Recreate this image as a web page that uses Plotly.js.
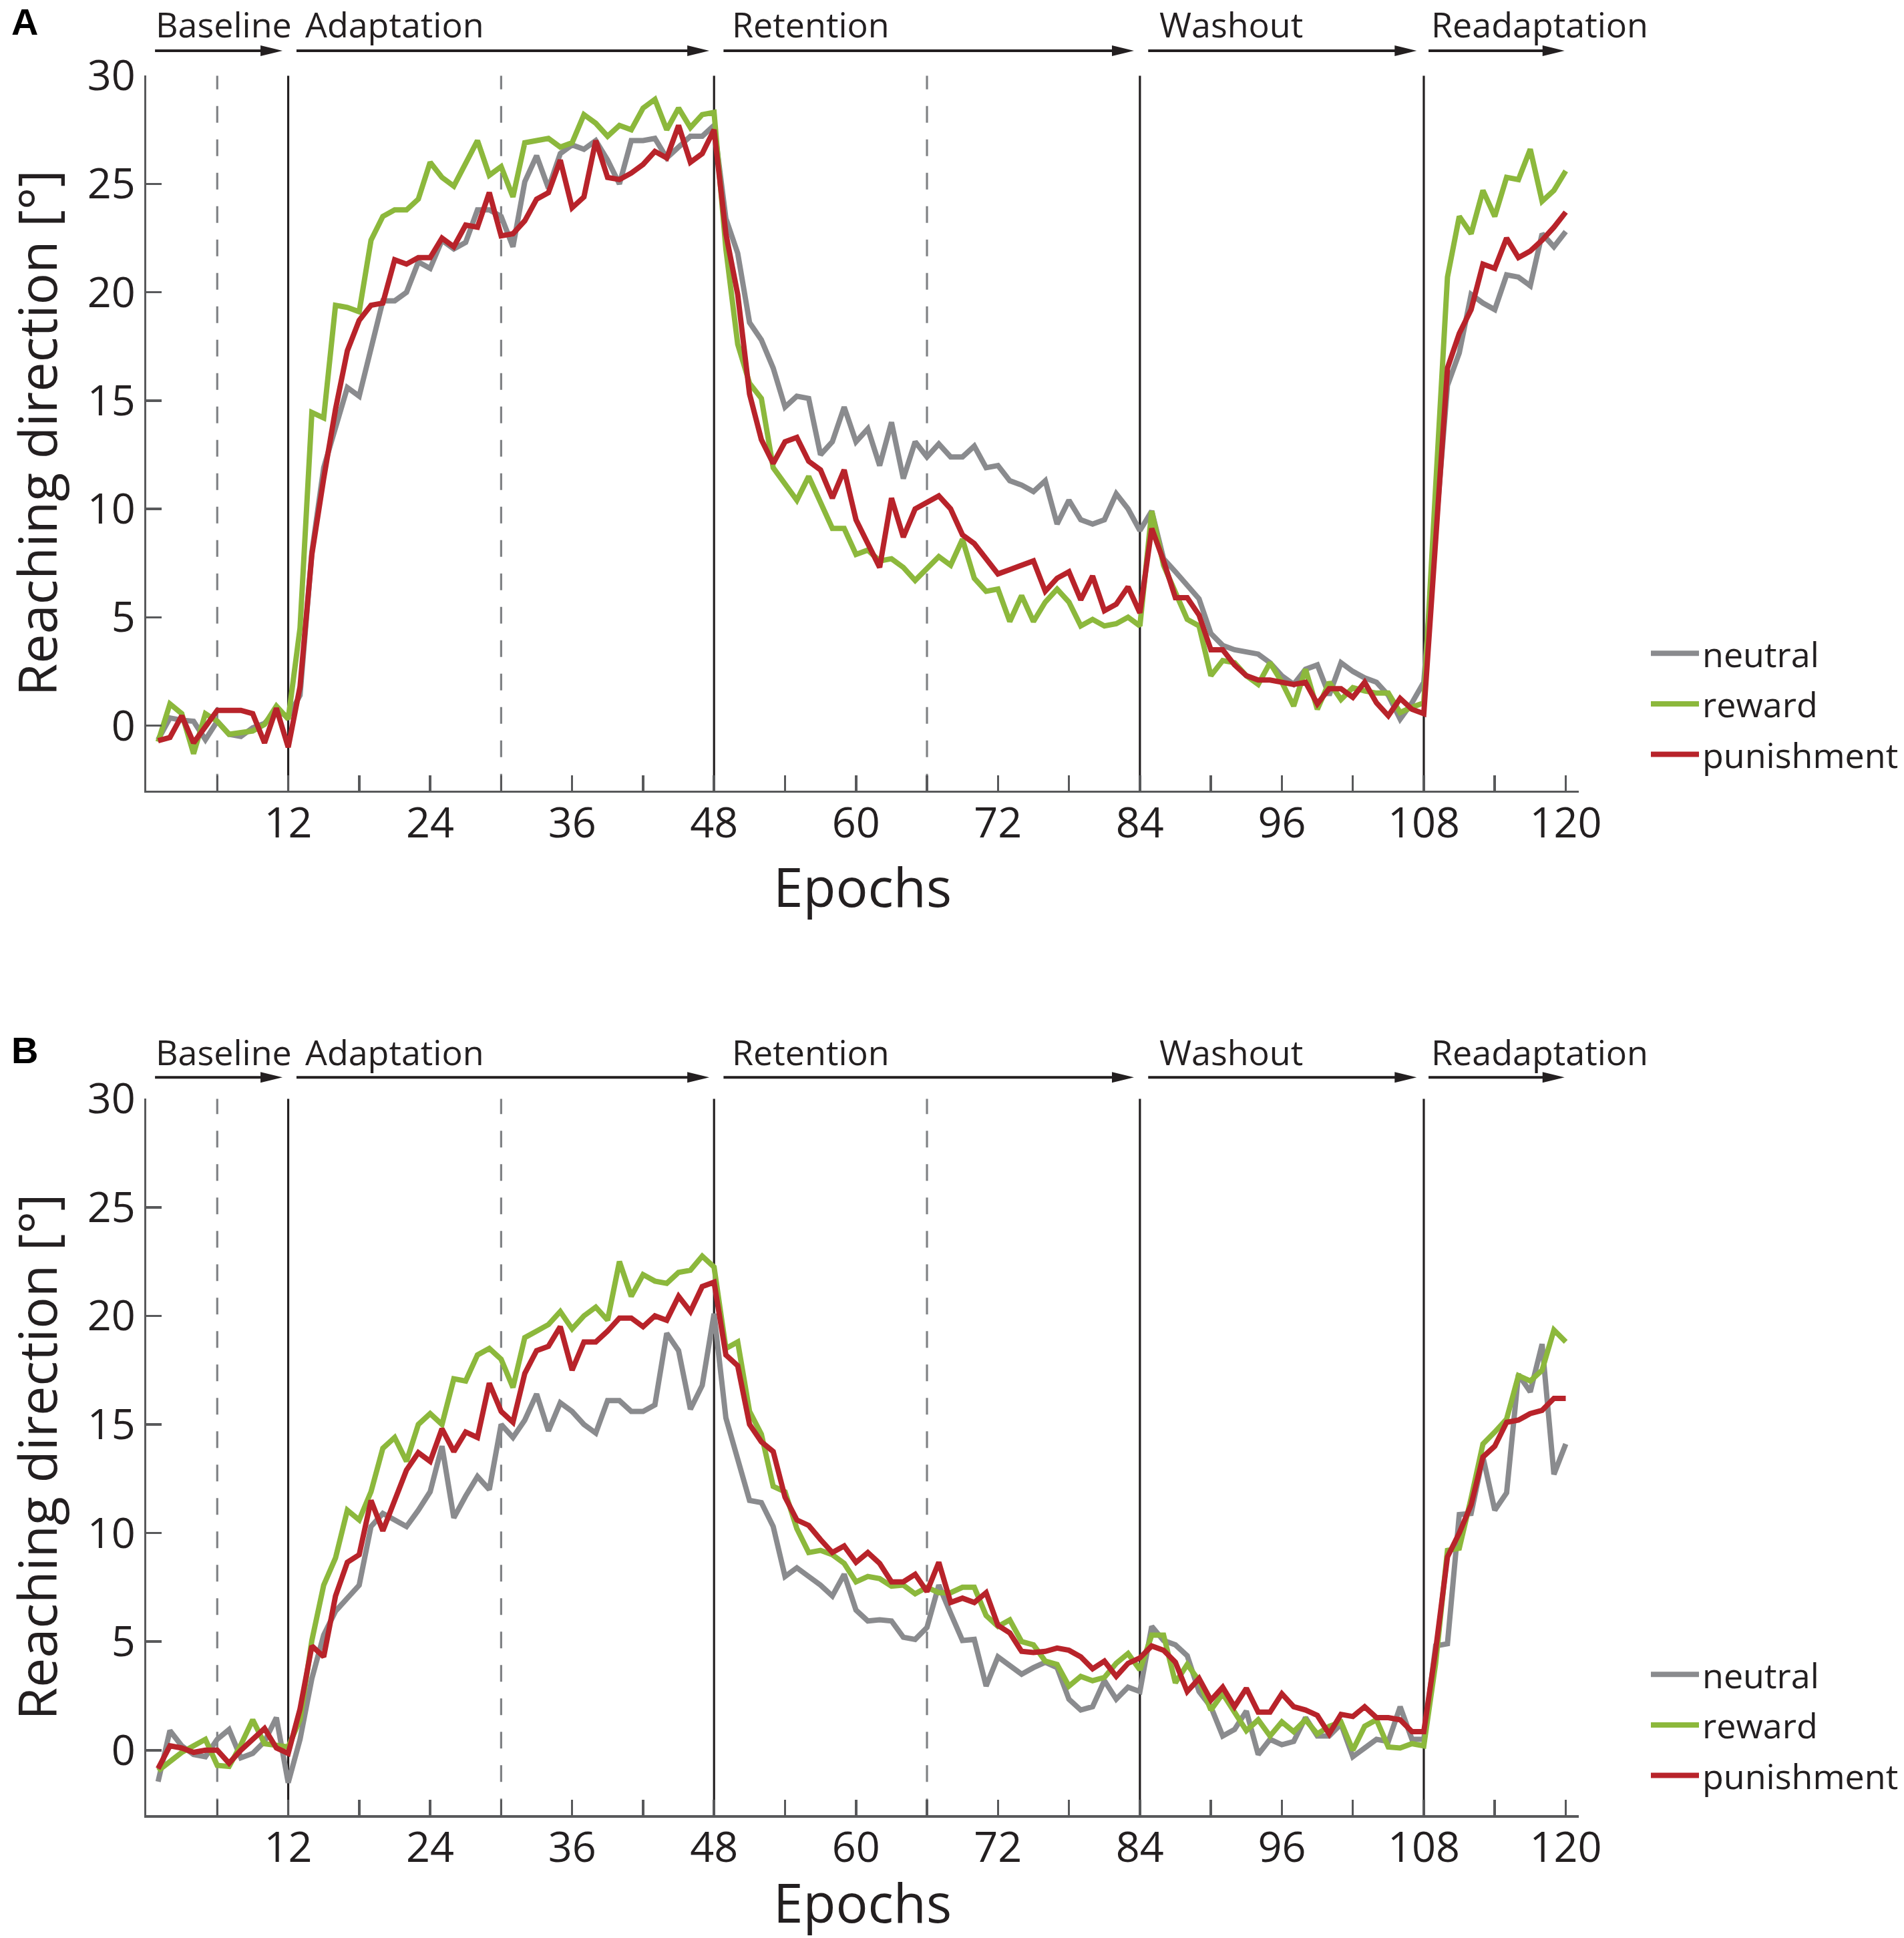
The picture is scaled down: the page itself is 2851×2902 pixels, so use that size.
<!DOCTYPE html>
<html><head><meta charset="utf-8">
<script src="https://cdn.plot.ly/plotly-3.0.1.min.js"></script>
<style>html,body{margin:0;padding:0;background:#fff}</style>
</head><body><div id="chart" style="width:2851px;height:2902px"></div>
<script>
// ---------- data ----------
const epochs = Array.from({length:120},(_, i)=>i+1);
const seriesNames = ['neutral','reward','punishment'];
const seriesColors = ['#8a8b8e','#8cb83c','#b8232a'];

const neutralA = [-0.65,0.35,0.25,0.2,-0.65,0.2,-0.4,-0.5,-0.1,0.1,0.7,0.4,
1.4,8.0,11.9,13.8,15.6,15.2,17.5,19.6,19.6,20.0,21.4,21.1,22.4,22.0,22.3,23.8,23.8,23.5,22.1,25.1,26.3,24.8,26.4,26.8,26.6,27.0,26.1,25.0,27.0,27.0,27.1,26.2,26.7,27.2,27.2,27.7,
23.4,21.8,18.6,17.8,16.5,14.7,15.2,15.1,12.5,13.1,14.7,13.1,13.7,12.0,14.0,11.4,13.1,12.4,13.0,12.4,12.4,12.9,11.9,12.0,11.3,11.1,10.8,11.3,9.3,10.4,9.5,9.3,9.5,10.7,10.0,9.0,
9.9,7.7,7.1,6.5,5.85,4.25,3.7,3.5,3.4,3.3,2.9,2.3,1.9,2.6,2.8,1.4,2.9,2.5,2.2,2.0,1.4,0.3,1.05,2.0,
9.0,15.7,17.2,19.9,19.5,19.2,20.8,20.7,20.3,22.7,22.1,22.8];
const rewardA = [-0.75,1.0,0.55,-1.3,0.55,0.2,-0.4,-0.35,-0.25,0.05,0.9,0.3,
4.5,14.45,14.2,19.4,19.3,19.1,22.4,23.5,23.8,23.8,24.3,26.0,25.3,24.9,25.9,27.0,25.4,25.8,24.4,26.9,27.0,27.1,26.7,26.9,28.2,27.8,27.2,27.7,27.5,28.5,28.9,27.5,28.5,27.6,28.2,28.3,
22.0,17.6,15.8,15.1,11.9,11.1,10.4,11.5,10.3,9.1,9.1,7.9,8.1,7.6,7.7,7.3,6.7,7.25,7.8,7.4,8.6,6.8,6.2,6.3,4.8,6.0,4.8,5.7,6.3,5.7,4.6,4.9,4.6,4.7,5.0,4.6,
9.9,7.4,6.2,4.9,4.6,2.3,3.0,2.9,2.3,1.9,2.9,2.0,0.9,2.6,0.75,2.0,1.2,1.75,1.6,1.5,1.5,0.6,0.85,1.05,
11.0,20.7,23.5,22.7,24.7,23.5,25.3,25.2,26.6,24.2,24.7,25.6];
const punishmentA = [-0.7,-0.55,0.45,-0.8,-0.05,0.7,0.7,0.7,0.55,-0.8,0.8,-1.0,
1.8,7.9,11.4,14.6,17.3,18.7,19.4,19.5,21.5,21.3,21.6,21.6,22.5,22.1,23.1,23.0,24.6,22.6,22.7,23.3,24.3,24.6,26.1,23.9,24.4,27.0,25.3,25.2,25.5,25.9,26.5,26.2,27.7,26.0,26.4,27.5,
22.7,19.9,15.3,13.2,12.1,13.1,13.3,12.2,11.8,10.5,11.8,9.5,8.4,7.3,10.5,8.7,10.0,10.3,10.6,10.0,8.8,8.4,7.7,7.0,7.2,7.4,7.6,6.2,6.8,7.1,5.8,6.9,5.3,5.6,6.4,5.2,
9.1,7.6,5.9,5.9,5.1,3.5,3.5,2.8,2.3,2.1,2.1,2.0,1.9,2.0,1.0,1.7,1.7,1.3,2.0,1.05,0.45,1.25,0.75,0.55,
8.5,16.5,18.1,19.2,21.3,21.1,22.5,21.6,21.9,22.4,23.0,23.7];

const neutralB = [-1.45,0.9,0.2,-0.2,-0.3,0.5,0.95,-0.35,-0.15,0.4,1.5,-1.5,
0.5,3.3,5.3,6.4,7.0,7.6,10.3,10.9,10.6,10.3,11.05,11.9,14.0,10.7,11.7,12.6,12.0,15.0,14.4,15.2,16.4,14.7,16.0,15.6,15.0,14.6,16.1,16.1,15.6,15.6,15.9,19.2,18.4,15.7,16.8,20.1,
15.3,13.4,11.5,11.4,10.3,8.0,8.4,8.0,7.6,7.1,8.1,6.45,5.95,6.0,5.95,5.2,5.1,5.65,7.6,6.3,5.05,5.1,2.95,4.3,3.9,3.5,3.8,4.05,3.8,2.35,1.85,2.0,3.2,2.35,2.9,2.7,
5.7,5.05,4.85,4.35,2.7,2.0,0.65,0.95,1.8,-0.2,0.5,0.25,0.4,1.5,0.65,0.65,1.2,-0.3,0.1,0.5,0.4,2.0,0.5,0.5,
4.8,4.9,10.85,10.9,13.5,11.05,11.85,17.3,16.5,18.7,12.7,14.1];
const rewardB = [-0.95,-0.55,-0.1,0.2,0.5,-0.7,-0.75,0.25,1.4,0.3,0.25,0.15,
1.4,5.05,7.6,8.85,11.05,10.6,11.9,13.9,14.4,13.3,15.0,15.5,15.0,17.1,17.0,18.2,18.5,18.0,16.7,19.0,19.3,19.6,20.2,19.4,20.0,20.4,19.8,22.5,20.9,21.9,21.6,21.5,22.0,22.1,22.75,22.25,
18.5,18.8,15.6,14.55,12.15,11.9,10.2,9.1,9.2,9.0,8.6,7.75,8.0,7.9,7.55,7.6,7.2,7.5,7.25,7.25,7.5,7.5,6.2,5.7,6.0,5.0,4.85,4.1,3.95,2.95,3.4,3.2,3.35,4.0,4.45,3.7,
5.3,5.3,3.1,3.95,3.2,1.85,2.6,1.75,0.9,1.4,0.65,1.3,0.85,1.4,0.75,1.1,1.3,0.0,1.1,1.4,0.15,0.1,0.3,0.2,
4.0,9.2,9.3,11.6,14.1,14.65,15.25,17.25,17.0,17.5,19.35,18.8];
const punishmentB = [-0.85,0.2,0.1,-0.1,0.0,0.0,-0.6,0.0,0.5,1.0,0.1,-0.15,
1.9,4.8,4.3,7.1,8.65,9.0,11.5,10.1,11.5,12.9,13.7,13.3,14.8,13.75,14.65,14.4,16.9,15.6,15.1,17.35,18.4,18.6,19.5,17.5,18.8,18.8,19.3,19.9,19.9,19.5,20.0,19.8,20.9,20.2,21.35,21.55,
18.2,17.7,15.0,14.2,13.75,11.65,10.6,10.35,9.7,9.1,9.4,8.65,9.1,8.6,7.75,7.75,8.1,7.3,8.65,6.8,7.0,6.8,7.25,5.75,5.4,4.55,4.5,4.55,4.7,4.6,4.3,3.75,4.1,3.4,4.0,4.25,
4.8,4.6,4.05,2.7,3.3,2.3,2.9,2.0,2.85,1.75,1.75,2.6,2.0,1.85,1.6,0.75,1.65,1.55,2.0,1.5,1.5,1.4,0.85,0.85,
4.6,8.9,10.0,11.3,13.5,14.0,15.1,15.2,15.5,15.65,16.2,16.2];

const xTickVals = [6,12,18,24,30,36,42,48,54,60,66,72,78,84,90,96,102,108,114,120];
const xTickText = ['','12','','24','','36','','48','','60','','72','','84','','96','','108','','120'];
const yTickVals = [0,5,10,15,20,25,30];
const yTickText = ['0','5','10','15','20','25','30'];

const phaseNames = ['Baseline','Adaptation','Retention','Washout','Readaptation'];
const phaseTextX = [0.7, 13.35, 49.4, 85.55, 108.5];
const phaseArrowStart = [0.74, 12.7, 48.8, 84.7, 108.4];
const phaseArrowEnd = [11.52, 47.6, 83.5, 107.4, 119.9];
const blockLines = [12,48,84,108];
const midLines = [6,30,66];
const panelLetters = ['A','B'];

// ---------- styling ----------
const FONT = 'Open Sans, sans-serif';
const TXT = '#231f20';
const AX = '#58595b';
const W = 2851, H = 2902;
const xDom = [219/W, 2364/W];
const panels = [
  {ax:'', yDom:[1-1183.8/H, 1-113.2/H], arrowY:1-76/H, textY:1-35.6/H, letterY:1-32.6/H, legendY:1-938/H, legend:'legend'},
  {ax:'2', yDom:[1-2718.3/H, 1-1645.2/H], arrowY:1-1613.3/H, textY:1-1574/H, letterY:1-1572.6/H, legendY:1-2467/H, legend:'legend2'}
];
const dataSets = [[neutralA,rewardA,punishmentA],[neutralB,rewardB,punishmentB]];

const traces = [];
const shapes = [];
const annotations = [];
const layout = {
  width:W, height:H, margin:{l:0,r:0,t:0,b:0},
  paper_bgcolor:'#fff', plot_bgcolor:'rgba(0,0,0,0)',
  font:{family:FONT, color:TXT},
  showlegend:true
};

panels.forEach((p, pi) => {
  const xa = 'x'+p.ax, ya = 'y'+p.ax;
  seriesNames.forEach((nm, si) => {
    traces.push({
      x: epochs, y: dataSets[pi][si], type:'scatter', mode:'lines', name:nm,
      xaxis:xa, yaxis:ya, legend:p.legend, legendgroup:nm+pi, cliponaxis:false,
      line:{color:seriesColors[si], width:8, shape:'linear'},
      hoverinfo:'skip'
    });
  });
  layout['xaxis'+p.ax] = {
    domain:xDom, anchor:ya, range:[0,121.1], fixedrange:true,
    showline:true, linecolor:AX, linewidth:3.5, mirror:false,
    ticks:'inside', ticklen:23, tickwidth:3.5, tickcolor:AX,
    tickmode:'array', tickvals:xTickVals, ticktext:xTickText,
    tickfont:{family:FONT, size:63, color:TXT}, ticklabelstandoff:-9,
    showgrid:false, zeroline:false,
    title:{text:'Epochs', font:{family:FONT, size:80, color:TXT}, standoff:0}
  };
  layout['yaxis'+p.ax] = {
    domain:p.yDom, anchor:xa, range:[-3,30], fixedrange:true,
    showline:true, linecolor:AX, linewidth:3.5,
    ticks:'inside', ticklen:23, tickwidth:3.5, tickcolor:AX,
    tickmode:'array', tickvals:yTickVals, ticktext:yTickText,
    tickfont:{family:FONT, size:63, color:TXT}, ticklabelstandoff:0,
    showgrid:false, zeroline:false,
    title:{text:'Reaching direction [°]', font:{family:FONT, size:79, color:TXT}, standoff:20}
  };
  blockLines.forEach(v => shapes.push({type:'line', xref:xa, yref:ya, x0:v, x1:v, y0:-3, y1:30, layer:'below',
    line:{color:'#231f20', width:3.2}}));
  midLines.forEach(v => shapes.push({type:'line', xref:xa, yref:ya, x0:v, x1:v, y0:-3, y1:30, layer:'below',
    line:{color:'#808285', width:3.2, dash:'25px,25px'}}));
  phaseNames.forEach((nm, k) => {
    shapes.push({type:'line', xref:xa, yref:'paper', x0:phaseArrowStart[k], x1:phaseArrowEnd[k]-1, y0:p.arrowY, y1:p.arrowY,
      line:{color:'#231f20', width:4}});
    shapes.push({type:'path', xref:xa, yref:'paper', xsizemode:'pixel', ysizemode:'pixel',
      xanchor:phaseArrowEnd[k], yanchor:p.arrowY, path:'M-33,-8L0,0L-33,8Z',
      fillcolor:'#231f20', line:{width:0}});
    annotations.push({xref:xa, yref:'paper', x:phaseTextX[k], y:p.textY, xanchor:'left', yanchor:'middle',
      text:nm, showarrow:false, font:{family:FONT, size:52, color:TXT}});
  });
  annotations.push({xref:'paper', yref:'paper', x:15/W, y:p.letterY, xanchor:'left', yanchor:'middle',
    text:'<b>'+panelLetters[pi]+'</b>', showarrow:false, font:{family:'Liberation Sans, Arial, sans-serif', size:56, color:'#000'}});
  layout[p.legend] = {
    x:2467/W, xanchor:'left', y:p.legendY, yanchor:'top',
    font:{family:FONT, size:52, color:TXT}, itemwidth:72,
    bgcolor:'rgba(0,0,0,0)', borderwidth:0, tracegroupgap:5, traceorder:'grouped'
  };
});
layout.shapes = shapes;
layout.annotations = annotations;

Plotly.newPlot('chart', traces, layout, {staticPlot:true, displayModeBar:false});
</script></body></html>
